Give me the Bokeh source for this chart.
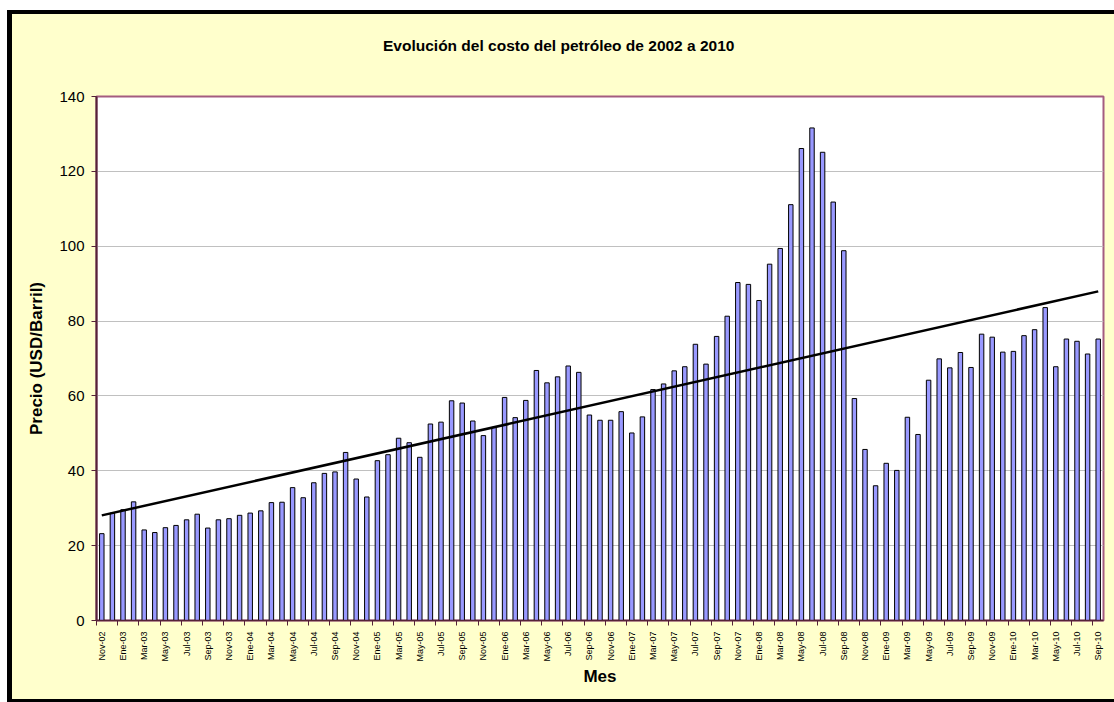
import numpy as np
from bokeh.plotting import figure
from bokeh.models import ColumnDataSource, Range1d, FixedTicker, Div
from bokeh.layouts import column
from bokeh.embed import file_html
from bokeh.resources import INLINE

# ---- data ----
abrev = ["Ene", "Feb", "Mar", "Abr", "May", "Jun", "Jul", "Ago", "Sep", "Oct", "Nov", "Dic"]
meses = (["Nov-02", "Dic-02"]
         + [f"{m}-{y:02d}" for y in range(3, 10) for m in abrev]
         + [f"{m}-10" for m in abrev[:9]])

precio = [
    23.2, 28.7,
    29.6, 31.7, 24.2, 23.5, 24.8, 25.4, 26.9, 28.4, 24.7, 26.9, 27.2, 28.1,
    28.7, 29.3, 31.5, 31.6, 35.5, 32.8, 36.8, 39.3, 39.7, 44.9, 37.8, 33.0,
    42.7, 44.3, 48.7, 47.5, 43.6, 52.5, 53.0, 58.7, 58.1, 53.3, 49.4, 51.6,
    59.6, 54.2, 58.8, 66.8, 63.5, 65.1, 68.0, 66.3, 54.9, 53.5, 53.5, 55.8,
    50.1, 54.4, 61.7, 63.2, 66.7, 67.8, 73.8, 68.5, 75.9, 81.3, 90.3, 89.8,
    85.5, 95.2, 99.4, 111.1, 126.1, 131.6, 125.1, 111.8, 98.8, 59.3, 45.7, 36.0,
    42.0, 40.1, 54.3, 49.7, 64.2, 69.9, 67.5, 71.6, 67.6, 76.5, 75.7, 71.7,
    71.9, 76.1, 77.7, 83.6, 67.8, 75.2, 74.6, 71.2, 75.2,
]
y_ticks = [0, 20, 40, 60, 80, 100, 120, 140]

titulo = "Evolución del costo del petróleo de 2002 a 2010"
titulo_x = "Mes"
titulo_y = "Precio (USD/Barril)"

# ---- derived ----
idx = np.arange(len(precio))
src = ColumnDataSource(dict(x=idx, precio=precio, mes=meses))
coef = np.polyfit(idx, precio, 1)
trend_x = [float(idx[0]), float(idx[-1])]
trend_y = list(np.polyval(coef, trend_x))

FONT = "Liberation Sans"
BG = "#FFFFCC"

head = Div(text=(f'<div style="padding-top:23px;padding-left:371px;white-space:nowrap;'
                 f'line-height:18px;font-family:\'{FONT}\';font-size:15.5px;'
                 f'font-weight:bold;color:black">{titulo}</div>'),
           width=1102, height=40, styles={"background-color": BG, "margin": "0px"})

p = figure(width=1102, height=645, output_backend="svg", toolbar_location=None,
           x_range=Range1d(-0.5, len(precio) - 0.5), y_range=Range1d(0, 140),
           min_border_left=84, min_border_right=11, min_border_top=42, min_border_bottom=79,
           background_fill_color="white", border_fill_color=BG,
           outline_line_color="#A45C80", outline_line_width=2)
p.title.visible = False

p.vbar(x="x", top="precio", width=0.42, source=src,
       fill_color="#9999FF", line_color="black", line_width=1)
p.line(trend_x, trend_y, line_color="black", line_width=2.5)

# grid
p.xgrid.grid_line_color = None
p.ygrid.grid_line_color = "#C0C0C0"
p.ygrid.ticker = FixedTicker(ticks=y_ticks)

# y axis
ya = p.yaxis[0]
ya.ticker = FixedTicker(ticks=y_ticks)
ya.axis_line_color = "#552238"
ya.axis_line_width = 2
ya.major_tick_line_color = "#552238"
ya.major_tick_out = 5
ya.major_tick_in = 0
ya.minor_tick_line_color = None
ya.major_label_text_font = FONT
ya.major_label_text_font_size = "15px"
ya.major_label_text_color = "black"
ya.major_label_standoff = 7
ya.axis_label = titulo_y
ya.axis_label_text_font = FONT
ya.axis_label_text_font_size = "17px"
ya.axis_label_text_font_style = "bold"
ya.axis_label_text_color = "black"
ya.axis_label_standoff = 10

# x axis
xa = p.xaxis[0]
xa.ticker = FixedTicker(ticks=[float(i) for i in idx[::2]],
                        minor_ticks=[i - 0.5 for i in idx[::2]])
xa.major_label_overrides = {float(i): meses[i] for i in idx[::2]}
xa.major_label_orientation = np.pi / 2
xa.axis_line_color = "#552238"
xa.axis_line_width = 1.5
xa.major_tick_out = 0
xa.major_tick_in = 0
xa.minor_tick_out = 5
xa.minor_tick_in = 0
xa.minor_tick_line_color = "#552238"
xa.major_label_text_font = FONT
xa.major_label_text_font_size = "9px"
xa.major_label_text_color = "black"
xa.major_label_standoff = 6
xa.axis_label = titulo_x
xa.axis_label_text_font = FONT
xa.axis_label_text_font_size = "17px"
xa.axis_label_text_font_style = "bold"
xa.axis_label_text_color = "black"
xa.axis_label_standoff = 2

layout = column(head, p, spacing=0, styles={
    "margin": "14px 0px 0px 12px",
    "background-color": BG,
    "box-shadow": "0px -4px 0px 0px black, -5px 0px 0px 0px black, "
                  "-5px -4px 0px 0px black, 0px 3px 0px 0px black, -5px 3px 0px 0px black",
})

open("out.html", "w").write(file_html(layout, INLINE))
